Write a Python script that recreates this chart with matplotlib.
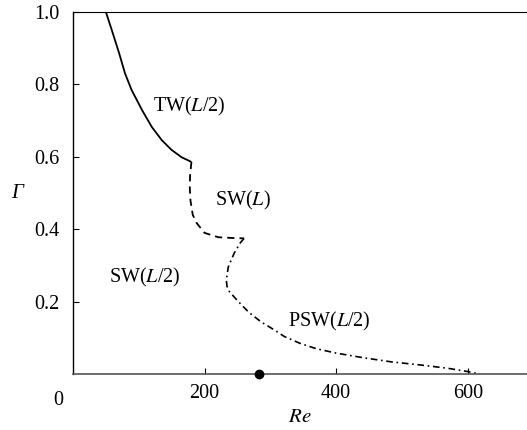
import matplotlib
matplotlib.use("Agg")
import matplotlib.pyplot as plt

plt.rcParams['font.family'] = ['Liberation Serif', 'DejaVu Serif']
plt.rcParams['mathtext.fontset'] = 'stix'

# TW(L/2) branch, solid
re_tw = [50, 59, 70, 79, 89, 105, 120, 135, 150, 165, 180]
g_tw = [1.0, 0.950, 0.887, 0.831, 0.785, 0.729, 0.682, 0.646, 0.619, 0.599, 0.586]

# SW(L) branch, dashed
re_sw = [180, 178, 177.5, 178.5, 182, 188, 200, 221, 241, 260]
g_sw = [0.586, 0.550, 0.517, 0.480, 0.440, 0.417, 0.390, 0.378, 0.376, 0.375]

# PSW(L/2) branch, dash-dot
re_psw = [260, 254, 245, 236, 233, 234, 238, 252, 267, 286, 306, 321, 345, 370, 400, 442, 483, 529, 570, 600, 618]
g_psw = [0.375, 0.362, 0.334, 0.296, 0.260, 0.243, 0.227, 0.199, 0.171, 0.144, 0.122, 0.104, 0.085, 0.070, 0.058, 0.045, 0.034, 0.025, 0.016, 0.007, 0.0]

re_dot = [283]
g_dot = [0.0]

xticks = [200, 400, 600]
yticks = [0.2, 0.4, 0.6, 0.8, 1.0]

fig = plt.figure(figsize=(5.27, 4.30), dpi=100)
ax = fig.add_axes([0.1385, 0.130, 0.8615, 0.842])

ax.plot(re_tw, g_tw, color='black', lw=1.3, solid_capstyle='butt')
ax.plot(re_sw, g_sw, color='black', lw=1.3, dashes=(4.0, 2.8))
ax.plot(re_psw, g_psw, color='black', lw=1.2, dashes=(4.0, 2.2, 1.0, 2.2))
ax.plot(re_dot, g_dot, 'o', color='black', ms=6, clip_on=False, zorder=5)

ax.set_xlim(0, 690)
ax.set_ylim(0, 1.0)
ax.set_xticks(xticks)
ax.set_xticklabels([str(t) for t in xticks])
ax.set_yticks(yticks)
ax.set_yticklabels(['%.1f' % t for t in yticks])
ax.tick_params(direction='in', length=4, width=0.8, labelsize=14.5, pad=7)
ax.tick_params(axis='y', pad=10)

ax.spines['right'].set_visible(False)
ax.spines['top'].set_linewidth(0.8)
ax.spines['left'].set_linewidth(1.0)
ax.spines['bottom'].set_color('#555555')
ax.spines['bottom'].set_linewidth(1.2)

# corner zero
ax.text(-0.022, -0.072, '0', transform=ax.transAxes, fontsize=14.5, ha='right', va='center')

ax.set_xlabel('$Re$', fontsize=15, labelpad=4)
ax.set_ylabel('Γ', fontsize=15, style='italic', rotation=0, labelpad=12, va='center')

fs = 14.5
ax.text(177, 0.738, 'TW($L$/2)', fontsize=fs, ha='center', va='center')
ax.text(259, 0.48, 'SW($L$)', fontsize=fs, ha='center', va='center')
ax.text(109, 0.268, 'SW($L$/2)', fontsize=fs, ha='center', va='center')
ax.text(389, 0.144, 'PSW($L$/2)', fontsize=fs, ha='center', va='center')

fig.savefig('out.png', dpi=100)
